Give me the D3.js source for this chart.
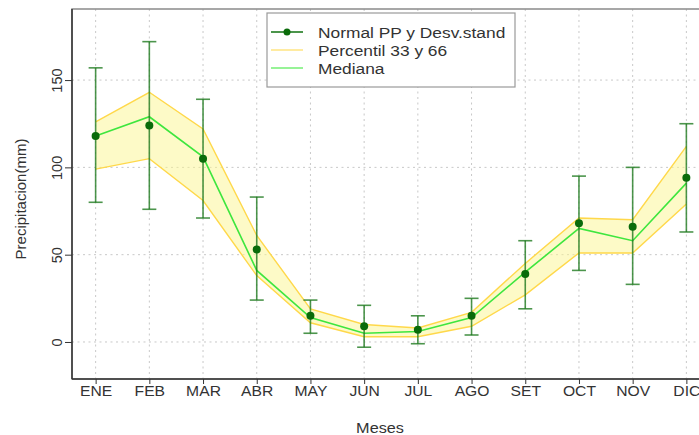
<!DOCTYPE html>
<html>
<head>
<meta charset="utf-8">
<title></title>
<style>
body { margin: 0; background: #fff; }
text { font-family: "Liberation Sans", Arial, sans-serif; fill: #333; }
.grid line { stroke: #c8c8c8; stroke-width: 1px; stroke-dasharray: 2,3.5; }
</style>
</head>
<body>
<script src="https://cdn.jsdelivr.net/npm/d3@7/dist/d3.min.js"></script>
<script>

var meses = ["ENE","FEB","MAR","ABR","MAY","JUN","JUL","AGO","SET","OCT","NOV","DIC"];
var normal = [118, 124, 105, 53, 15, 9, 7, 15, 39, 68, 66, 94];
var desvSup = [157, 172, 139, 83, 24, 21, 15, 25, 58, 95, 100, 125];
var desvInf = [80, 76, 71, 24, 5, -3, -1, 4, 19, 41, 33, 63];
var perc33 = [99, 105, 81, 38, 11, 3, 3, 9, 27, 51, 51, 79];
var perc66 = [126, 143, 122, 61, 19, 10, 8, 17, 45, 71, 70, 112];
var mediana = [118, 129, 106, 41, 14, 5, 6, 14, 40, 65, 58, 91];
var yTicks = [0, 50, 100, 150];

var width = 699, height = 435;
var pLeft = 72, pRight = 710, pTop = 9, pBottom = 379;
var sx = 1.12; // the original text looks stretched sideways

var svg = d3.select("body").append("svg")
    .attr("width", width)
    .attr("height", height);

var x = d3.scaleLinear().domain([0.56, 12.44]).range([pLeft, pRight]);
var y = d3.scaleLinear().domain([-21.2, 190.7]).range([pBottom, pTop]);

var data = meses.map(function(m, i) {
  return {mes: m, i: i + 1, normal: normal[i], sup: desvSup[i], inf: desvInf[i],
          p33: perc33[i], p66: perc66[i], med: mediana[i]};
});

// grid
var grid = svg.append("g").attr("class", "grid");
grid.selectAll(".gv").data(data).enter().append("line")
    .attr("x1", d => x(d.i)).attr("x2", d => x(d.i))
    .attr("y1", pTop).attr("y2", pBottom);
grid.selectAll(".gh").data(yTicks).enter().append("line")
    .attr("x1", pLeft).attr("x2", pRight)
    .attr("y1", d => y(d)).attr("y2", d => y(d));

// box
svg.append("rect")
    .attr("x", pLeft).attr("y", pTop)
    .attr("width", pRight - pLeft).attr("height", pBottom - pTop)
    .attr("fill", "none").attr("stroke", "#8a8a8a").attr("stroke-width", 1.5);

// percentile band
var area = d3.area()
    .x(d => x(d.i))
    .y0(d => y(d.p33))
    .y1(d => y(d.p66));
svg.append("path").datum(data)
    .attr("d", area)
    .attr("fill", "#fcf590")
    .attr("fill-opacity", 0.5)
    .attr("stroke", "none");
svg.append("path").datum(data)
    .attr("d", d3.line().x(d => x(d.i)).y(d => y(d.p66)))
    .attr("fill", "none").attr("stroke", "#ffd84a").attr("stroke-width", 1.4);
svg.append("path").datum(data)
    .attr("d", d3.line().x(d => x(d.i)).y(d => y(d.p33)))
    .attr("fill", "none").attr("stroke", "#ffd84a").attr("stroke-width", 1.4);

// mediana
svg.append("path").datum(data)
    .attr("d", d3.line().x(d => x(d.i)).y(d => y(d.med)))
    .attr("fill", "none").attr("stroke", "#3ee63e").attr("stroke-width", 1.6);

// error bars
var eb = svg.append("g")
    .attr("stroke", "#1f7a1f").attr("stroke-opacity", 0.8).attr("stroke-width", 1.6);
eb.selectAll(".v").data(data).enter().append("line")
    .attr("x1", d => x(d.i)).attr("x2", d => x(d.i))
    .attr("y1", d => y(d.sup)).attr("y2", d => y(d.inf));
eb.selectAll(".t").data(data).enter().append("line")
    .attr("x1", d => x(d.i) - 7).attr("x2", d => x(d.i) + 7)
    .attr("y1", d => y(d.sup)).attr("y2", d => y(d.sup));
eb.selectAll(".b").data(data).enter().append("line")
    .attr("x1", d => x(d.i) - 7).attr("x2", d => x(d.i) + 7)
    .attr("y1", d => y(d.inf)).attr("y2", d => y(d.inf));

// puntos
svg.selectAll(".pt").data(data).enter().append("circle")
    .attr("cx", d => x(d.i)).attr("cy", d => y(d.normal))
    .attr("r", 4)
    .attr("fill", "#0a6b0a");

// axes
var xAxis = svg.append("g")
    .attr("transform", "translate(0," + pBottom + ")")
    .call(d3.axisBottom(x).tickValues(d3.range(1, 13)).tickSize(5).tickPadding(2)
      .tickFormat(d => meses[d - 1]));
xAxis.select(".domain").attr("stroke", "#333").attr("stroke-width", 1.5)
    .attr("d", "M" + pLeft + ",0H" + pRight);
xAxis.selectAll(".tick line").attr("stroke", "#333");
xAxis.selectAll("text")
    .attr("transform", "scale(" + sx + ",1)")
    .style("font-size", "14px").attr("fill", "#333");

var yAxis = svg.append("g")
    .attr("transform", "translate(" + pLeft + ",0)")
    .call(d3.axisLeft(y).tickValues(yTicks).tickSize(7).tickPadding(0));
yAxis.select(".domain").attr("stroke", "#333").attr("stroke-width", 1.5)
    .attr("d", "M0," + pTop + "V" + pBottom);
yAxis.selectAll(".tick line").attr("stroke", "#333");
yAxis.selectAll("text")
    .attr("x", 0).attr("dy", 0)
    .attr("transform", "translate(-10,0) rotate(-90)")
    .attr("text-anchor", "middle")
    .style("font-size", "14.5px").attr("fill", "#333");

// axis titles
svg.append("text")
    .attr("transform", "translate(380,433) scale(" + sx + ",1)")
    .attr("text-anchor", "middle")
    .style("font-size", "14.5px")
    .text("Meses");
svg.append("text")
    .attr("transform", "translate(26,199) rotate(-90)")
    .attr("text-anchor", "middle")
    .style("font-size", "15px")
    .text("Precipitacion(mm)");

// legend
var lg = svg.append("g");
lg.append("rect")
    .attr("x", 267).attr("y", 13).attr("width", 248).attr("height", 74)
    .attr("fill", "#fff").attr("stroke", "#9a9a9a").attr("stroke-width", 1.2);
var items = [
  {label: "Normal PP y Desv.stand", color: "#1f7a1f", dot: true},
  {label: "Percentil 33 y 66", color: "#ffe68a", dot: false},
  {label: "Mediana", color: "#7ef07e", dot: false}
];
items.forEach(function(it, k) {
  var yy = 32 + k * 18;
  lg.append("line").attr("x1", 271).attr("x2", 303).attr("y1", yy).attr("y2", yy)
    .attr("stroke", it.color).attr("stroke-width", 1.6);
  if (it.dot) lg.append("circle").attr("cx", 287).attr("cy", yy).attr("r", 3.5).attr("fill", "#0a6b0a");
  lg.append("text")
    .attr("transform", "translate(318," + (yy + 5.5) + ") scale(" + sx + ",1)")
    .style("font-size", "15.5px").attr("fill", "#222").text(it.label);
});

</script>
</body>
</html>
